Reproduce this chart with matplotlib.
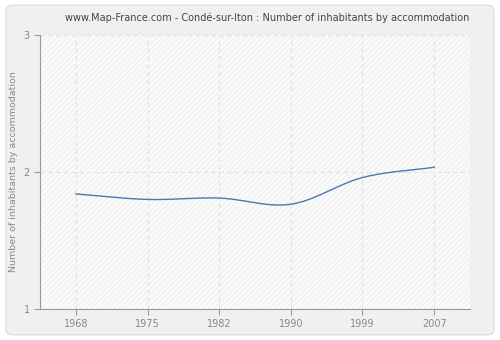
import numpy as np
import matplotlib.pyplot as plt
from matplotlib.patches import FancyBboxPatch, Rectangle

years = ['1968', '1975', '1982', '1990', '1999', '2007']
values = [1.84, 1.80, 1.81, 1.765, 1.96, 2.035]


def smooth(xs, ys, steps=30):
    # courbe lissée type Catmull-Rom entre les points
    xs = np.asarray(xs, float)
    ys = np.asarray(ys, float)
    px = np.concatenate([[2 * xs[0] - xs[1]], xs, [2 * xs[-1] - xs[-2]]])
    py = np.concatenate([[2 * ys[0] - ys[1]], ys, [2 * ys[-1] - ys[-2]]])
    outx, outy = [], []
    for i in range(1, len(px) - 2):
        t = np.linspace(0, 1, steps)
        for arr, out in ((px, outx), (py, outy)):
            p0, p1, p2, p3 = arr[i - 1], arr[i], arr[i + 1], arr[i + 2]
            out.extend(0.5 * (2 * p1 + (-p0 + p2) * t
                              + (2 * p0 - 5 * p1 + 4 * p2 - p3) * t ** 2
                              + (-p0 + 3 * p1 - 3 * p2 + p3) * t ** 3))
    return np.array(outx), np.array(outy)


plt.rcParams['hatch.linewidth'] = 0.5

fig = plt.figure(figsize=(5, 3.4), dpi=100)
fig.patch.set_facecolor('white')
fig.patches.append(FancyBboxPatch((0.012, 0.015), 0.976, 0.97,
                                  boxstyle='round,pad=0,rounding_size=0.015',
                                  transform=fig.transFigure, facecolor='#f0f0f0',
                                  edgecolor='#dcdcdc', linewidth=0.8, zorder=-10))

ax = fig.add_axes([0.08, 0.091, 0.86, 0.806])
ax.set_facecolor('#fafafa')
ax.add_patch(Rectangle((0, 0), 1, 1, transform=ax.transAxes, facecolor='none',
                       edgecolor='#eaeaea', hatch='//////', linewidth=0, zorder=0))

x = np.arange(len(years))
sx, sy = smooth(x, values)
ax.plot(sx, sy, color='#4a78b0', linewidth=1.0, zorder=3)

ax.set_xlim(-0.5, len(years) - 0.5)
ax.set_ylim(1, 3)
ax.set_xticks(x)
ax.set_xticklabels(years)
ax.set_yticks([1, 2, 3])
ax.grid(True, color='#e2e2e2', linestyle=(0, (4, 3)), linewidth=0.8)
ax.set_axisbelow(True)

for s in ('top', 'right'):
    ax.spines[s].set_visible(False)
for s in ('left', 'bottom'):
    ax.spines[s].set_color('#999999')
ax.tick_params(colors='#999999', labelcolor='#888888', labelsize=7, length=4)

ax.set_ylabel('Number of inhabitants by accommodation', color='#888888', fontsize=6.8)
fig.text(0.534, 0.948, 'www.Map-France.com - Condé-sur-Iton : Number of inhabitants by accommodation',
         ha='center', va='center', fontsize=7, color='#444444')

fig.savefig('out.png', dpi=100, facecolor=fig.get_facecolor())
